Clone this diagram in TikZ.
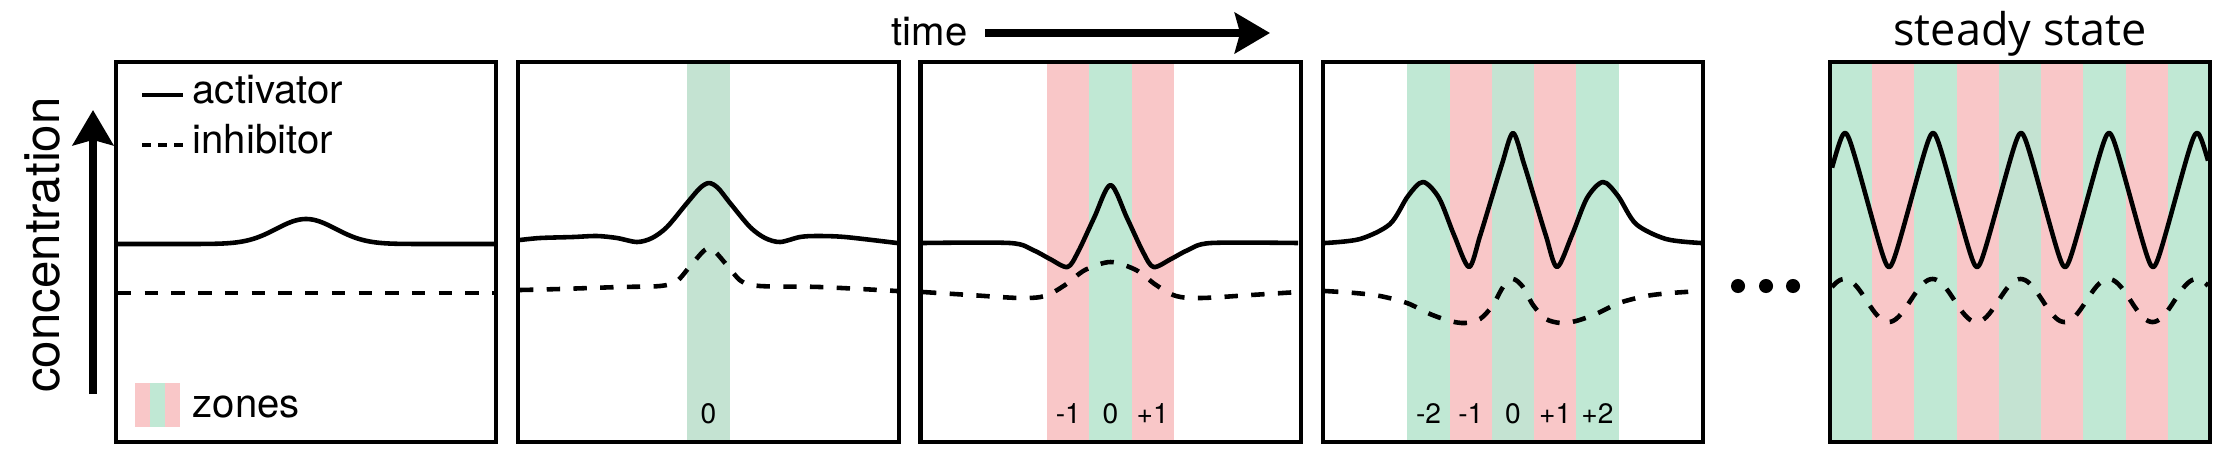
\documentclass[tikz,border=0pt]{standalone}
\usepackage{fontspec}
\setmainfont{TeX Gyre Heros}
\newfontfamily\ssfont{Open Sans}
\usetikzlibrary{arrows.meta}
\definecolor{zpink}{RGB}{249,199,200}
\definecolor{zgreen}{RGB}{192,232,212}
\definecolor{zgreenc}{RGB}{196,227,210}
\tikzset{
  panelbox/.style={draw=black, line width=1.15pt},
  act/.style={line width=1.3pt, line join=round},
  inh/.style={line width=1.3pt, dash pattern=on 3.8pt off 3.8pt},
  lbl/.style={font=\fontsize{8}{9}\selectfont, inner sep=0pt, anchor=base},
  txt/.style={font=\fontsize{11.4}{13}\selectfont, inner sep=0pt, anchor=base west},
  bigarrow/.style={-{Stealth[length=10pt,width=11.5pt,inset=1.5pt]}},
  dotnode/.style={circle, fill=black, minimum size=4pt, inner sep=0pt},
}
\begin{document}
\begin{tikzpicture}[x=0.01cm,y=-0.01cm]
\useasboundingbox (0,0) rectangle (2222,460);

% ---------- zone bands ----------
% panel 2
\fill[zgreenc] (687.4,62) rectangle (729.6,442);
% panel 3
\foreach \i/\c in {-1/zpink,0/zgreen,1/zpink}
  \fill[\c] ({1110.5+42.22*\i-21.11},62) rectangle ({1110.5+42.22*\i+21.11},442);
% panel 4
\foreach \i/\c in {-2/zgreen,-1/zpink,0/zgreenc,1/zpink,2/zgreen}
  \fill[\c] ({1513+42.22*\i-21.11},62) rectangle ({1513+42.22*\i+21.11},442);
% panel 5
\foreach \i/\c in {0/zgreen,1/zpink,2/zgreen,3/zpink,4/zgreenc,5/zpink,6/zgreen,7/zpink,8/zgreen}
  \fill[\c] ({1830+42.22*\i},62) rectangle ({1830+42.22*(\i+1)},442);

% ---------- legend (panel 1) ----------
\draw[act] (142,95) -- (183,95);
\draw[line width=1.2pt, dash pattern=on 2.6pt off 2pt] (142,145) -- (183,145);
\node[txt] (lact) at (192,103) {activator};
\node[txt] (linh) at (192,153) {inhibitor};
\fill[zpink] (135,383) rectangle (150,427);
\fill[zgreen] (150,383) rectangle (165,427);
\fill[zpink] (165,383) rectangle (180,427);
\node[txt] (lzones) at (192,417) {zones};

% ---------- curves ----------
% panel 1
\draw[act] plot[domain=118:494, samples=150] (\x, {244-25*exp(-((\x-306)/42)*((\x-306)/42))});
\draw[inh] (118,293) -- (494,293);
% panel 2
\draw[act] plot[smooth] coordinates {(520,240) (540,238) (573,237) (597,236) (617,238) (637,242) (652,238) (667,227) (687,203) (700,188) (709,183) (718,188) (730,203) (750,227) (765,238) (780,242) (800,237) (817,236) (845,237) (897,243)};
\draw[inh] plot[smooth] coordinates {(520,290) (560,289) (620,287) (660,286) (677,281) (692,264) (709,248) (726,264) (741,281) (760,286) (820,287) (897,291)};
% panel 3
\draw[act] plot[smooth] coordinates {(923,243) (1010,243) (1033,250) (1050,259) (1067.5,267) (1078,252) (1094,218) (1110.5,185) (1127,218) (1143,252) (1153.5,267) (1171,259) (1188,250) (1211,243) (1298,243)};
\draw[inh] plot[smooth] coordinates {(923,292) (970,295) (1020,298) (1045,296) (1065,285) (1085,270) (1110.5,262) (1136,270) (1156,285) (1176,296) (1201,298) (1251,295) (1298,292)};
% panel 4
\draw[act] plot[smooth] coordinates {(1325,243) (1360,239) (1390,224) (1408,196) (1423,182) (1439,198) (1454,235) (1469,267) (1480,236) (1491,200) (1502,164) (1513,133) (1524,164) (1535,200) (1546,236) (1557,267) (1572,235) (1587,198) (1603,182) (1618,196) (1636,224) (1666,239) (1701,243)};
\draw[inh] plot[smooth] coordinates {(1325,291) (1355,293) (1380,296) (1407,303) (1430,314) (1450,321) (1465,323) (1480,319) (1493,305) (1503,287) (1513,279) (1523,287) (1533,305) (1546,319) (1561,323) (1576,321) (1596,314) (1619,303) (1646,296) (1671,293) (1701,291)};
% panel 5
\draw[act] plot[domain=1832:2208, samples=400] (\x, {200-67*asin(0.95*cos(4.090909*(\x-2021)))/71.8});
\draw[inh] plot[domain=1832:2208, samples=300] (\x, {300.5-21.5*cos(4.090909*(\x-2020.5))});

% ---------- panel frames ----------
\draw[panelbox] (116,62) rectangle (496,442);
\draw[panelbox] (518,62) rectangle (899,442);
\draw[panelbox] (920.5,62) rectangle (1300.5,442);
\draw[panelbox] (1323,62) rectangle (1703,442);
\draw[panelbox] (1830,62) rectangle (2210,442);

% ---------- zone labels ----------
\node[lbl] (p2la) at (708.5,423) {0};
\node[lbl] (p3la) at (1068.3,423) {-1};
\node[lbl] (p3lb) at (1110.5,423) {0};
\node[lbl] (p3lc) at (1152.7,423) {+1};
\node[lbl] (p4la) at (1428.6,423) {-2};
\node[lbl] (p4lb) at (1470.8,423) {-1};
\node[lbl] (p4lc) at (1513,423) {0};
\node[lbl] (p4ld) at (1555.2,423) {+1};
\node[lbl] (p4le) at (1597.4,423) {+2};

% ---------- axis arrows and titles ----------
\coordinate (ya) at (93,394);
\coordinate (yb) at (93,110);
\draw[line width=2.3pt, bigarrow] (ya) -- (yb);
\node[font=\fontsize{14}{16}\selectfont, rotate=90, anchor=base, inner sep=0pt] (conc) at (59,245) {concentration};

\node[txt] (time) at (891,45) {time};
\coordinate (ta) at (985,33);
\coordinate (tb) at (1270,33);
\draw[line width=2pt, bigarrow] (ta) -- (tb);

\node[font=\ssfont\fontsize{12.8}{15}\selectfont, anchor=base, inner sep=0pt] (ss) at (2020,45) {steady state};

% ---------- ellipsis ----------
\node[dotnode] (d1) at (1738,286) {};
\node[dotnode] (d2) at (1766,286) {};
\node[dotnode] (d3) at (1793,286) {};
\end{tikzpicture}
\end{document}
